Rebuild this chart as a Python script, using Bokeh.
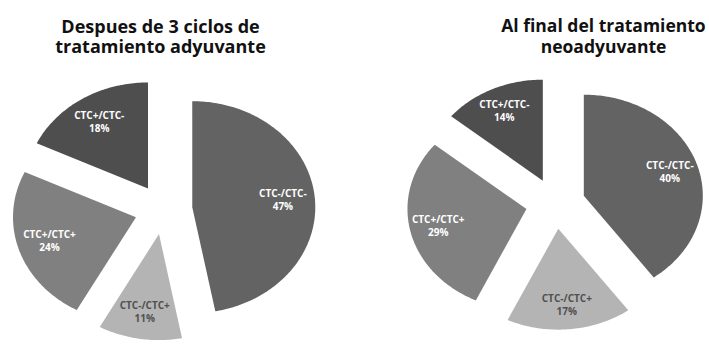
import math
from bokeh.plotting import figure
from bokeh.models import Range1d, ColumnDataSource
from bokeh.core.properties import value
from bokeh.embed import file_html
from bokeh.resources import INLINE

# ---- data ----
categories = ["CTC-/CTC-", "CTC-/CTC+", "CTC+/CTC+", "CTC+/CTC-"]
adyuvante = [47, 11, 24, 18]
neoadyuvante = [40, 17, 29, 14]
title_left = ["Despues de 3 ciclos de", "tratamiento adyuvante"]
title_right = ["Al final del tratamiento", "neoadyuvante"]

# ---- style / layout ----
colors = ["#636363", "#b4b4b4", "#808080", "#4e4e4e"]
label_colors = ["#ffffff", "#505050", "#ffffff", "#ffffff"]
W, H = 709, 345
# (cx, cy, rx, ry, explode fraction, label fraction, title x, title size, baselines)
layouts = [
    (163, 209, 123, 106, 0.235, 0.74, 160, "18px", [25, 45]),
    (555, 203, 119, 101, 0.25, 0.76, 603, "17.5px", [24, 45]),
]

p = figure(width=W, height=H, x_range=Range1d(0, W), y_range=Range1d(H, 0),
           x_axis_type=None, y_axis_type=None, output_backend="svg",
           toolbar_location=None, min_border=0)
p.grid.visible = False
p.outline_line_color = None
p.background_fill_color = "white"
p.border_fill_color = "white"

for vals, title, (cx, cy, rx, ry, ex, lf, tx, ts, tb) in zip(
        [adyuvante, neoadyuvante], [title_left, title_right], layouts):
    total = float(sum(vals))
    xs, ys, lx, ly = [], [], [], []
    start = 0.0
    for v in vals:
        a0 = start
        a1 = start + v / total * 2 * math.pi
        mid = (a0 + a1) / 2
        ax = cx + ex * rx * math.sin(mid)
        ay = cy - ex * ry * math.cos(mid)
        n = max(8, int((a1 - a0) * 60))
        px, py = [ax], [ay]
        for i in range(n + 1):
            t = a0 + (a1 - a0) * i / n
            px.append(ax + rx * math.sin(t))
            py.append(ay - ry * math.cos(t))
        xs.append(px)
        ys.append(py)
        lx.append(ax + lf * rx * math.sin(mid))
        ly.append(ay - lf * ry * math.cos(mid))
        start = a1
    src = ColumnDataSource(dict(xs=xs, ys=ys, color=colors, lx=lx, ly=ly,
                                cat=categories, pct=[f"{v}%" for v in vals],
                                tc=label_colors))
    p.patches("xs", "ys", fill_color="color", line_color=None, source=src)
    p.text("lx", "ly", text="cat", text_color="tc", text_font=value("Open Sans"),
           text_font_style="bold", text_font_size="10px", text_align="center",
           text_baseline="middle", y_offset=-7, source=src)
    p.text("lx", "ly", text="pct", text_color="tc", text_font=value("Open Sans"),
           text_font_style="bold", text_font_size="10px", text_align="center",
           text_baseline="middle", y_offset=6, source=src)
    p.text(x=[tx] * len(title), y=tb, text=title, text_font=value("Open Sans"),
           text_font_style="bold", text_font_size=ts, text_align="center",
           text_baseline="alphabetic", text_color="#111111")

open("out.html", "w").write(file_html(p, INLINE))
